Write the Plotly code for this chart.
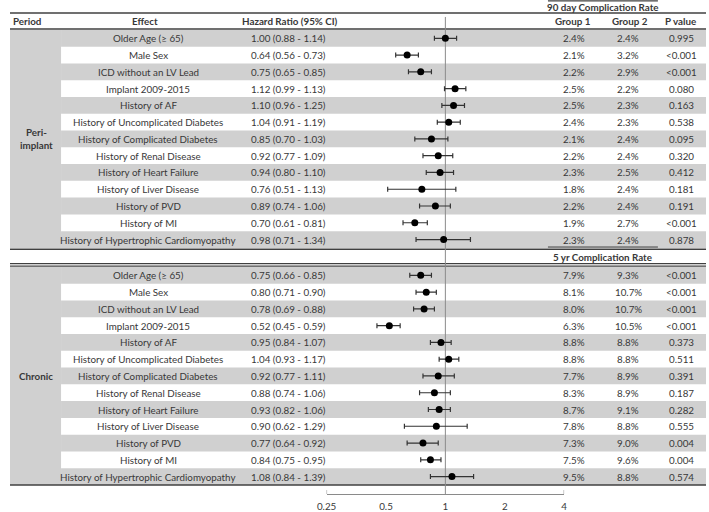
import plotly.graph_objects as go

# ---------------- data ----------------
effects = ["Older Age (≥ 65)", "Male Sex", "ICD without an LV Lead", "Implant 2009-2015",
           "History of AF", "History of Uncomplicated Diabetes", "History of Complicated Diabetes",
           "History of Renal Disease", "History of Heart Failure", "History of Liver Disease",
           "History of PVD", "History of MI", "History of Hypertrophic Cardiomyopathy"]

# Peri-implant
peri_hr = [1.00, 0.64, 0.75, 1.12, 1.10, 1.04, 0.85, 0.92, 0.94, 0.76, 0.89, 0.70, 0.98]
peri_lo = [0.88, 0.56, 0.65, 0.99, 0.96, 0.91, 0.70, 0.77, 0.80, 0.51, 0.74, 0.61, 0.71]
peri_hi = [1.14, 0.73, 0.85, 1.27, 1.25, 1.19, 1.03, 1.09, 1.10, 1.13, 1.06, 0.81, 1.34]  # bar ends as drawn
peri_ci_text = ["1.00 (0.88 - 1.14)", "0.64 (0.56 - 0.73)", "0.75 (0.65 - 0.85)", "1.12 (0.99 - 1.13)",
                "1.10 (0.96 - 1.25)", "1.04 (0.91 - 1.19)", "0.85 (0.70 - 1.03)", "0.92 (0.77 - 1.09)",
                "0.94 (0.80 - 1.10)", "0.76 (0.51 - 1.13)", "0.89 (0.74 - 1.06)", "0.70 (0.61 - 0.81)",
                "0.98 (0.71 - 1.34)"]
peri_g1 = ["2.4%", "2.1%", "2.2%", "2.5%", "2.5%", "2.4%", "2.1%", "2.2%", "2.3%", "1.8%", "2.2%", "1.9%", "2.3%"]
peri_g2 = ["2.4%", "3.2%", "2.9%", "2.2%", "2.3%", "2.3%", "2.4%", "2.4%", "2.5%", "2.4%", "2.4%", "2.7%", "2.4%"]
peri_p = ["0.995", "<0.001", "<0.001", "0.080", "0.163", "0.538", "0.095", "0.320", "0.412", "0.181",
          "0.191", "<0.001", "0.878"]

# Chronic
chr_hr = [0.75, 0.80, 0.78, 0.52, 0.95, 1.04, 0.92, 0.88, 0.93, 0.90, 0.77, 0.84, 1.08]
chr_lo = [0.66, 0.71, 0.69, 0.45, 0.84, 0.93, 0.77, 0.74, 0.82, 0.62, 0.64, 0.75, 0.84]
chr_hi = [0.85, 0.90, 0.88, 0.59, 1.07, 1.17, 1.11, 1.06, 1.06, 1.29, 0.92, 0.95, 1.39]
chr_ci_text = ["0.75 (0.66 - 0.85)", "0.80 (0.71 - 0.90)", "0.78 (0.69 - 0.88)", "0.52 (0.45 - 0.59)",
               "0.95 (0.84 - 1.07)", "1.04 (0.93 - 1.17)", "0.92 (0.77 - 1.11)", "0.88 (0.74 - 1.06)",
               "0.93 (0.82 - 1.06)", "0.90 (0.62 - 1.29)", "0.77 (0.64 - 0.92)", "0.84 (0.75 - 0.95)",
               "1.08 (0.84 - 1.39)"]
chr_g1 = ["7.9%", "8.1%", "8.0%", "6.3%", "8.8%", "8.8%", "7.7%", "8.3%", "8.7%", "7.8%", "7.3%", "7.5%", "9.5%"]
chr_g2 = ["9.3%", "10.7%", "10.7%", "10.5%", "8.8%", "8.8%", "8.9%", "8.9%", "9.1%", "8.8%", "9.0%", "9.6%", "8.8%"]
chr_p = ["<0.001", "<0.001", "<0.001", "<0.001", "0.373", "0.511", "0.391", "0.187", "0.282", "0.555",
         "0.004", "0.004", "0.574"]

tick_vals = [0.25, 0.5, 1, 2, 4]
tick_text = ["0.25", "0.5", "1", "2", "4"]

# ---------------- layout constants ----------------
W, H = 709, 512
ROW_H = 16.8
PERI_TOP = 30.0
CHR_TOP = 267.5
FONT = "Lato"
TXT = "#383838"
LINE = "#404040"
BAND = "#d0d0d0"
FS = 9.8

col_effect, col_hr, col_g1, col_g2, col_p = 141, 284, 575, 630, 684
period_w = 52


def yc(top, i):
    return top + (i + 0.5) * ROW_H


def px(x):
    return x / W


fig = go.Figure()
shapes = []
annotations = []


def add_text(x, y, text, bold=False, anchor="center", size=FS):
    annotations.append(dict(
        x=px(x), y=y, xref="paper", yref="y", text=("<b>%s</b>" % text) if bold else text,
        showarrow=False, xanchor=anchor, yanchor="middle", borderpad=0,
        font=dict(family=FONT, size=size, color=TXT)))


def hline(y, x0=0, x1=W, width=1.5):
    shapes.append(dict(type="line", xref="paper", yref="y", x0=px(x0), x1=px(x1), y0=y, y1=y,
                       line=dict(color=LINE, width=width), layer="below"))


for top, hr, lo, hi, ci, g1, g2, pv in [
        (PERI_TOP, peri_hr, peri_lo, peri_hi, peri_ci_text, peri_g1, peri_g2, peri_p),
        (CHR_TOP, chr_hr, chr_lo, chr_hi, chr_ci_text, chr_g1, chr_g2, chr_p)]:
    n = len(effects)
    # period column background
    shapes.append(dict(type="rect", xref="paper", yref="y", x0=0, x1=px(period_w),
                       y0=top, y1=top + n * ROW_H, fillcolor=BAND, line=dict(width=0), layer="below"))
    for i in range(n):
        if i % 2 == 0:
            shapes.append(dict(type="rect", xref="paper", yref="y", x0=px(period_w), x1=1,
                               y0=top + i * ROW_H, y1=top + (i + 1) * ROW_H,
                               fillcolor=BAND, line=dict(width=0), layer="below"))
        y = yc(top, i)
        add_text(col_effect, y, effects[i])
        add_text(col_hr, y, ci[i])
        add_text(col_g1, y, g1[i])
        add_text(col_g2, y, g2[i])
        add_text(col_p, y, pv[i])
    ys = [yc(top, i) for i in range(n)]
    fig.add_trace(go.Scatter(
        x=hr, y=ys, mode="markers",
        marker=dict(color="black", size=7),
        error_x=dict(type="data", symmetric=False,
                     array=[h - m for h, m in zip(hi, hr)],
                     arrayminus=[m - l for m, l in zip(hr, lo)],
                     color="#333333", thickness=1.2, width=2.5),
        showlegend=False, hoverinfo="skip"))

# reference line at HR = 1
shapes.append(dict(type="line", xref="x", yref="y", x0=1, x1=1, y0=17, y1=495,
                   line=dict(color="#8a8a8a", width=1), layer="below"))
# axis end ticks
for v in (tick_vals[0], tick_vals[-1]):
    shapes.append(dict(type="line", xref="x", yref="y", x0=v, x1=v, y0=491, y1=495,
                       line=dict(color="#8a8a8a", width=1), layer="below"))

# horizontal rules
hline(0.8, 548, 660, 1.2)
hline(13)
hline(29)
hline(247.5, 548, 660, 1.0)
hline(249.8)
hline(264.2, width=1.2)
hline(266.6, width=1.2)
hline(486)

# headers
add_text(2, 21, "Period", bold=True, anchor="left")
add_text(138, 21, "Effect", bold=True)
add_text(285, 21, "Hazard Ratio (95% CI)", bold=True)
add_text(574, 21, "Group 1", bold=True)
add_text(632, 21, "Group 2", bold=True)
add_text(683, 21, "P value", bold=True)
add_text(604, 7, "90 day Complication Rate", bold=True)
add_text(604, 257, "5 yr Complication Rate", bold=True)
add_text(27, (PERI_TOP + PERI_TOP + 13 * ROW_H) / 2, "Peri-<br>implant", bold=True)
add_text(26, (CHR_TOP + CHR_TOP + 13 * ROW_H) / 2, "Chronic", bold=True)

fig.update_layout(
    width=W, height=H, margin=dict(l=0, r=0, t=0, b=0),
    paper_bgcolor="white", plot_bgcolor="rgba(0,0,0,0)",
    shapes=shapes, annotations=annotations, showlegend=False,
    xaxis=dict(type="log", range=[-0.60206, 0.60206], domain=[322.5 / W, 564.5 / W],
               anchor="free", position=1 - 495 / H,
               showline=True, linecolor="#8a8a8a", linewidth=1,
               showgrid=False, zeroline=False, ticks="",
               tickvals=tick_vals, ticktext=tick_text, ticklabelstandoff=3,
               tickfont=dict(family=FONT, size=FS, color=TXT)),
    yaxis=dict(range=[H, 0], domain=[0, 1], visible=False, showgrid=False, zeroline=False),
)

fig.write_html("out.html", config={"displayModeBar": False},
               post_script="document.body.style.margin='0';document.body.style.overflow='hidden';")
